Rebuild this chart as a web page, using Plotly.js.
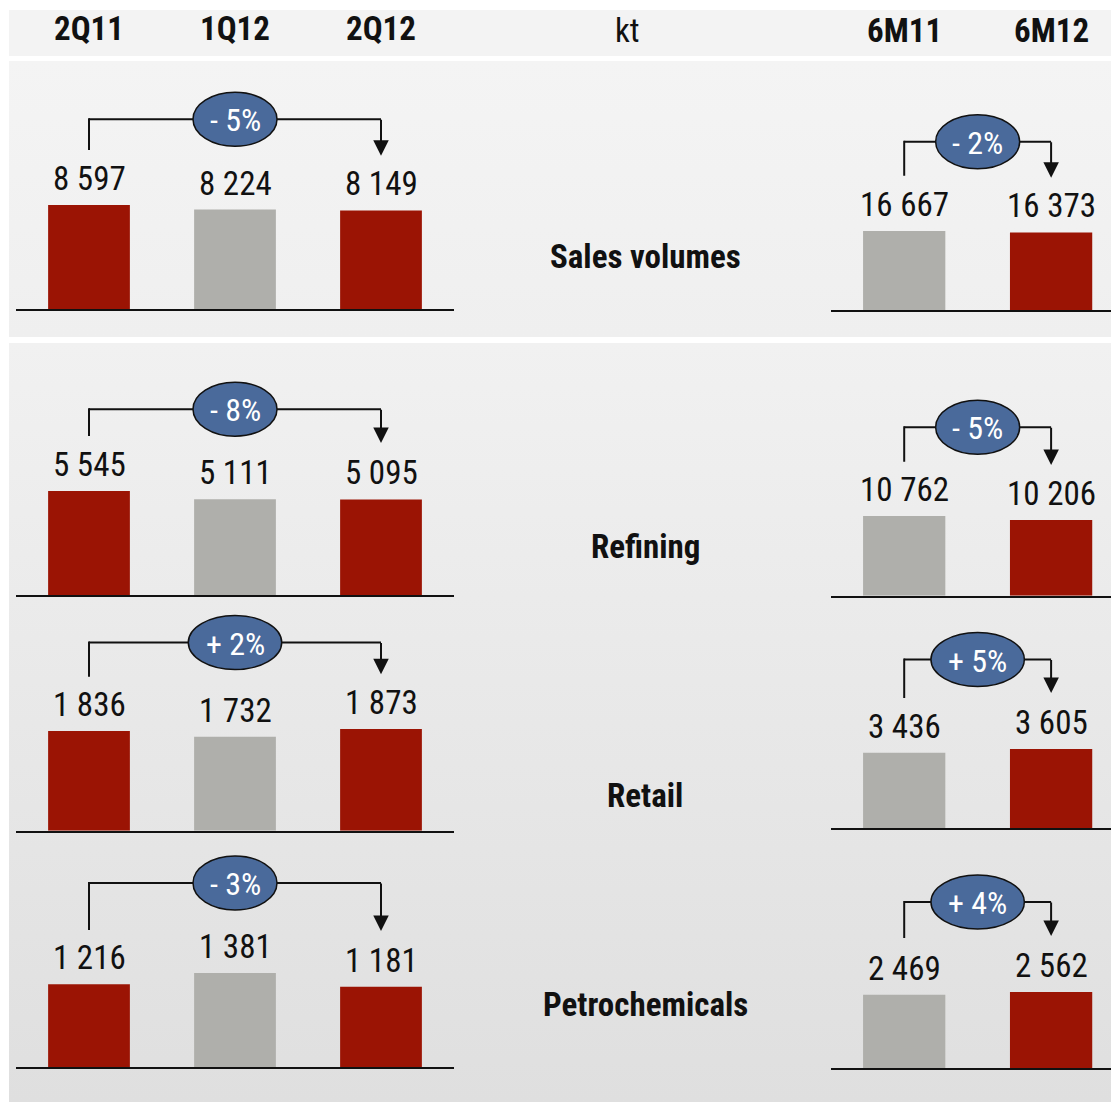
<!DOCTYPE html>
<html>
<head>
<meta charset="utf-8">
<script src="https://cdn.plot.ly/plotly-3.0.1.min.js"></script>
<style>
  html, body { margin: 0; padding: 0; background: #ffffff; }
  #wrap { position: relative; width: 1111px; height: 1102px; overflow: hidden; }
  .band { position: absolute; left: 9px; right: 0; }
  #chart { position: absolute; left: 0; top: 0; width: 1111px; height: 1102px; }
</style>
</head>
<body>
<div id="wrap">
  <div class="band" style="top:10px;height:46px;background:#f3f3f3"></div>
  <div class="band" style="top:61px;height:276px;background:linear-gradient(#f4f4f4,#efefef)"></div>
  <div class="band" style="top:343px;height:759px;background:linear-gradient(#f1f1f1,#dfdfdf)"></div>
  <div id="chart"></div>
</div>
<script>
// ---- data (kt) ----
const segments = ['Sales volumes', 'Refining', 'Retail', 'Petrochemicals'];
const quarters = ['2Q11', '1Q12', '2Q12'];
const halves = ['6M11', '6M12'];
const unitLabel = 'kt';

const salesQuarter = [8597, 8224, 8149];
const refiningQuarter = [5545, 5111, 5095];
const retailQuarter = [1836, 1732, 1873];
const petroQuarter = [1216, 1381, 1181];

const salesHalf = [16667, 16373];
const refiningHalf = [10762, 10206];
const retailHalf = [3436, 3605];
const petroHalf = [2469, 2562];

// ---- page geometry (pixels from top-left) ----
const W = 1111, H = 1102;
const px = x => x / W;
const py = y => 1 - y / H;
const PLOT_H = 150;            // height of each small plot area

const RED = '#9b1404', GREY = '#afafab', BLUE = '#4a6a9b';
const FONT = "'Liberation Sans Narrow', 'Arial Narrow', 'Roboto Condensed', 'Liberation Sans', sans-serif";

const quarterColors = [RED, GREY, RED];
const halfColors = [GREY, RED];

// one entry per segment row: left (quarters) and right (half-years) panels
const rows = [
  { name: segments[0], labelY: 256.5,
    left:  { values: salesQuarter,    base: 309.3, top: 12364, cy: 119.3, stemEnd: 150,   tip: 155.7 },
    right: { values: salesHalf,       base: 310.0, top: 31646, cy: 141.7, stemEnd: 175.7, tip: 177.7 } },
  { name: segments[1], labelY: 546,
    left:  { values: refiningQuarter, base: 595.0, top: 7998,  cy: 409.2, stemEnd: 436,   tip: 443 },
    right: { values: refiningHalf,    base: 595.7, top: 20255, cy: 427.2, stemEnd: 461.7, tip: 465 } },
  { name: segments[2], labelY: 795.5,
    left:  { values: retailQuarter,   base: 830.7, top: 2762,  cy: 642.5, stemEnd: 676.7, tip: 674.3 },
    right: { values: retailHalf,      base: 828.3, top: 6819,  cy: 659.5, stemEnd: 698,   tip: 693 } },
  { name: segments[3], labelY: 1004,
    left:  { values: petroQuarter,    base: 1067.3, top: 2197, cy: 883,   stemEnd: 930,   tip: 931 },
    right: { values: petroHalf,       base: 1068.3, top: 5037, cy: 902,   stemEnd: 938,   tip: 936 } }
];

const fmt = v => String(v).replace(/\B(?=(\d{3})+(?!\d))/g, ' ');
const pctText = (a, b) => {
  const p = Math.round((b / a - 1) * 100);
  return (p < 0 ? '- ' : '+ ') + Math.abs(p) + '%';
};

const traces = [];
const shapes = [];
const annotations = [];
const layout = {
  width: W, height: H,
  margin: { l: 0, r: 0, t: 0, b: 0 },
  paper_bgcolor: 'rgba(0,0,0,0)',
  plot_bgcolor: 'rgba(0,0,0,0)',
  showlegend: false,
  font: { family: FONT, color: '#111' },
  shapes: shapes,
  annotations: annotations
};

// centred text label helper
function label(opts) {
  return Object.assign({ showarrow: false, xanchor: 'center', yanchor: 'middle' }, opts);
}

let axisN = 0;
function addPanel(panel, cats, colors, xDomainPx, xRange) {
  axisN += 1;
  const sfx = axisN === 1 ? '' : String(axisN);
  const xr = 'x' + sfx, yr = 'y' + sfx;
  layout['xaxis' + sfx] = {
    domain: [px(xDomainPx[0]), px(xDomainPx[1])],
    range: xRange, type: 'category', anchor: yr,
    showline: true, linecolor: '#111', linewidth: 2,
    showticklabels: false, ticks: '', showgrid: false, zeroline: false, fixedrange: true
  };
  layout['yaxis' + sfx] = {
    domain: [py(panel.base), py(panel.base - PLOT_H)],
    range: [0, panel.top], anchor: xr, visible: false, fixedrange: true
  };
  traces.push({
    type: 'bar', x: cats, y: panel.values, xaxis: xr, yaxis: yr,
    width: 0.56, marker: { color: colors, line: { width: 0 } },
    hoverinfo: 'skip', cliponaxis: false
  });
  // value labels above each bar
  panel.values.forEach((v, i) => {
    annotations.push(label({
      x: cats[i], y: v, xref: xr, yref: yr, text: fmt(v),
      yanchor: 'bottom', yshift: 5, font: { size: 33, color: '#111', family: FONT }
    }));
  });
  // change bracket: stem from first bar, line across, arrow into last bar
  const last = cats.length - 1;
  const mid = last / 2;
  shapes.push({ type: 'line', xref: xr, yref: 'paper', x0: 0, x1: 0,
    y0: py(panel.cy - 1), y1: py(panel.stemEnd), line: { color: '#111', width: 2 } });
  shapes.push({ type: 'line', xref: xr, yref: 'paper', x0: 0, x1: last,
    y0: py(panel.cy), y1: py(panel.cy), line: { color: '#111', width: 2 } });
  annotations.push({
    x: cats[last], y: py(panel.tip), xref: xr, yref: 'paper', text: '',
    showarrow: true, ax: 0, ay: -(panel.tip - panel.cy + 1), standoff: 0,
    arrowhead: 2, arrowsize: 1.55, arrowwidth: 2, arrowcolor: '#111'
  });
  const change = pctText(panel.values[0], panel.values[last]);
  const half = change.charAt(0) === '+' ? 46.7 : 42;
  shapes.push({ type: 'circle', xref: xr, yref: 'paper', xsizemode: 'pixel', xanchor: mid,
    x0: -half, x1: half, y0: py(panel.cy + 27), y1: py(panel.cy - 27),
    fillcolor: BLUE, line: { color: '#111', width: 1.5 } });
  annotations.push(label({
    x: mid, y: py(panel.cy), xref: xr, yref: 'paper', text: change,
    yshift: -1, font: { size: 32, color: '#ffffff', family: FONT }
  }));
  return xr;
}

rows.forEach((row, r) => {
  const xl = addPanel(row.left, quarters, quarterColors, [16, 454], [-0.5, 2.5]);
  const xrr = addPanel(row.right, halves, halfColors, [830.75, 1111], [-0.5, 1.4078]);
  annotations.push(label({
    x: px(645), y: py(row.labelY), xref: 'paper', yref: 'paper', text: row.name,
    font: { size: 33, weight: 'bold', color: '#111', family: FONT }
  }));
  if (r === 0) {
    quarters.forEach(q => annotations.push(label({
      x: q, y: py(28.3), xref: xl, yref: 'paper', text: q,
      font: { size: 33, weight: 'bold', color: '#111', family: FONT }
    })));
    halves.forEach(h => annotations.push(label({
      x: h, y: py(30.8), xref: xrr, yref: 'paper', text: h,
      font: { size: 33, weight: 'bold', color: '#111', family: FONT }
    })));
  }
});

annotations.push(label({
  x: px(627.6), y: py(30.8), xref: 'paper', yref: 'paper', text: unitLabel,
  font: { size: 33, color: '#111', family: FONT }
}));

Plotly.newPlot('chart', traces, layout, { staticPlot: true, displayModeBar: false });
</script>
</body>
</html>
